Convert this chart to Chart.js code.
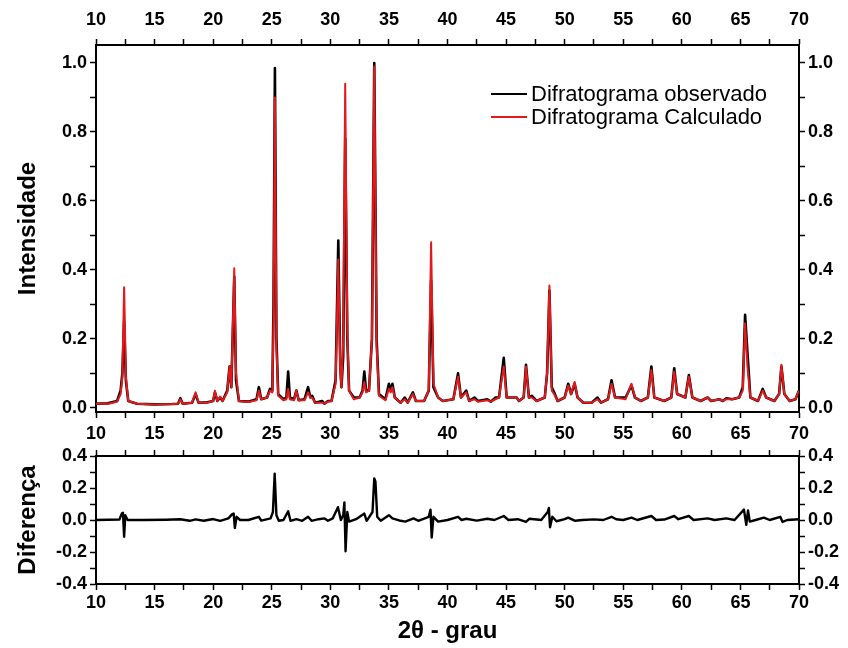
<!DOCTYPE html>
<html>
<head>
<meta charset="utf-8">
<script src="https://cdn.jsdelivr.net/npm/chart.js@4.4.1/dist/chart.umd.min.js"></script>
<style>
  html, body { margin: 0; padding: 0; background: #fff; }
  #wrap { position: relative; width: 848px; height: 648px; }
  #wrap canvas { position: absolute; left: 0; top: 0; }
  #legend { position: absolute; left: 491px; top: 83px; font: 22px "Liberation Sans", Arial, sans-serif; color: #000; }
  #legend .item { display: flex; align-items: center; height: 22.5px; }
  #legend .swatch { width: 36px; height: 2px; margin-right: 4px; }
</style>
</head>
<body>
<div id="wrap">
  <canvas id="topChart" width="848" height="648"></canvas>
  <canvas id="diffChart" width="848" height="648"></canvas>
  <div id="legend"></div>
</div>
<script>
// 2theta positions shared by the observed and calculated patterns
const twoTheta = [
  10.0, 11.0, 11.8, 12.1, 12.25, 12.4, 12.55, 12.75, 13.5, 15.0,
  16.5, 17.0, 17.2, 17.4, 18.2, 18.5, 18.75, 19.5, 20.0, 20.15,
  20.35, 20.6, 20.8, 21.2, 21.4, 21.55, 21.8, 21.95, 22.2, 23.0,
  23.7, 23.9, 24.1, 24.6, 24.85, 25.05, 25.15, 25.27, 25.4, 25.55,
  26.0, 26.25, 26.4, 26.55, 26.9, 27.1, 27.3, 27.8, 28.1, 28.3,
  28.45, 28.7, 29.3, 29.5, 29.8, 30.1, 30.45, 30.68, 30.85, 30.95,
  31.1, 31.27, 31.45, 31.6, 32.0, 32.5, 32.75, 32.9, 33.05, 33.3,
  33.55, 33.75, 33.95, 34.15, 34.7, 35.0, 35.15, 35.3, 35.5, 36.0,
  36.35, 36.6, 37.05, 37.3, 38.0, 38.4, 38.6, 38.8, 39.2, 39.6,
  40.5, 40.9, 41.15, 41.6, 41.85, 42.3, 42.6, 43.4, 43.7, 44.1,
  44.4, 44.8, 45.05, 45.9, 46.1, 46.5, 46.7, 46.95, 47.2, 47.6,
  48.3, 48.5, 48.7, 48.9, 49.1, 49.4, 50.0, 50.3, 50.55, 50.85,
  51.1, 51.6, 52.3, 52.8, 53.1, 53.7, 54.0, 54.3, 55.2, 55.7,
  56.0, 56.5, 57.1, 57.4, 57.65, 58.5, 59.1, 59.35, 59.6, 60.3,
  60.6, 60.9, 61.6, 62.2, 62.5, 63.2, 63.5, 63.8, 64.3, 64.9,
  65.2, 65.4, 65.6, 65.85, 66.5, 66.9, 67.2, 67.9, 68.3, 68.5,
  68.75, 69.2, 69.7, 70.0
];
const observed = [
  0.012, 0.013, 0.020, 0.050, 0.100, 0.250, 0.080, 0.020, 0.012, 0.010,
  0.011, 0.012, 0.028, 0.012, 0.015, 0.040, 0.015, 0.016, 0.020, 0.045,
  0.020, 0.030, 0.020, 0.050, 0.120, 0.060, 0.380, 0.080, 0.020, 0.018,
  0.025, 0.060, 0.025, 0.030, 0.055, 0.050, 0.300, 0.985, 0.200, 0.040,
  0.025, 0.030, 0.105, 0.030, 0.025, 0.050, 0.022, 0.025, 0.060, 0.030,
  0.035, 0.015, 0.020, 0.012, 0.020, 0.020, 0.080, 0.485, 0.120, 0.060,
  0.150, 0.780, 0.200, 0.050, 0.030, 0.030, 0.050, 0.105, 0.050, 0.050,
  0.200, 1.000, 0.200, 0.040, 0.025, 0.070, 0.050, 0.070, 0.030, 0.015,
  0.030, 0.015, 0.045, 0.020, 0.020, 0.050, 0.370, 0.060, 0.030, 0.020,
  0.025, 0.100, 0.030, 0.050, 0.020, 0.030, 0.020, 0.025, 0.018, 0.030,
  0.030, 0.145, 0.030, 0.030, 0.020, 0.030, 0.125, 0.030, 0.035, 0.020,
  0.030, 0.100, 0.340, 0.060, 0.045, 0.020, 0.030, 0.070, 0.040, 0.070,
  0.030, 0.015, 0.015, 0.030, 0.015, 0.025, 0.080, 0.030, 0.030, 0.065,
  0.030, 0.020, 0.030, 0.120, 0.030, 0.020, 0.030, 0.115, 0.040, 0.030,
  0.095, 0.030, 0.020, 0.030, 0.020, 0.025, 0.020, 0.028, 0.025, 0.030,
  0.060, 0.270, 0.160, 0.030, 0.020, 0.055, 0.030, 0.020, 0.040, 0.120,
  0.040, 0.020, 0.025, 0.050
];
const calculated = [
  0.012, 0.012, 0.018, 0.040, 0.090, 0.350, 0.090, 0.020, 0.012, 0.010,
  0.011, 0.012, 0.025, 0.012, 0.015, 0.045, 0.015, 0.015, 0.020, 0.050,
  0.020, 0.033, 0.020, 0.045, 0.120, 0.060, 0.405, 0.100, 0.020, 0.017,
  0.022, 0.050, 0.025, 0.030, 0.050, 0.045, 0.250, 0.900, 0.180, 0.035,
  0.022, 0.025, 0.055, 0.025, 0.022, 0.050, 0.022, 0.022, 0.045, 0.030,
  0.030, 0.015, 0.015, 0.012, 0.018, 0.020, 0.070, 0.430, 0.100, 0.060,
  0.200, 0.940, 0.220, 0.050, 0.025, 0.030, 0.045, 0.075, 0.045, 0.050,
  0.200, 0.990, 0.180, 0.035, 0.022, 0.055, 0.045, 0.060, 0.030, 0.015,
  0.025, 0.015, 0.040, 0.020, 0.020, 0.050, 0.480, 0.070, 0.030, 0.020,
  0.025, 0.090, 0.030, 0.045, 0.020, 0.025, 0.018, 0.022, 0.018, 0.025,
  0.030, 0.120, 0.030, 0.030, 0.020, 0.030, 0.120, 0.030, 0.030, 0.020,
  0.030, 0.100, 0.355, 0.050, 0.040, 0.020, 0.030, 0.065, 0.040, 0.075,
  0.030, 0.015, 0.015, 0.025, 0.015, 0.025, 0.070, 0.030, 0.025, 0.070,
  0.030, 0.020, 0.030, 0.110, 0.030, 0.020, 0.030, 0.105, 0.040, 0.030,
  0.090, 0.030, 0.020, 0.030, 0.020, 0.025, 0.020, 0.025, 0.025, 0.030,
  0.050, 0.245, 0.120, 0.030, 0.020, 0.050, 0.030, 0.020, 0.040, 0.125,
  0.040, 0.020, 0.025, 0.050
];

// difference curve (observado - calculado)
const diffTheta = [
  10.0, 11.0, 12.0, 12.2, 12.3, 12.4, 12.5, 12.7, 14.0, 16.0,
  17.2, 18.0, 18.5, 19.2, 20.0, 20.6, 21.3, 21.6, 21.75, 21.85,
  22.0, 22.3, 23.0, 23.9, 24.1, 24.9, 25.1, 25.25, 25.4, 25.6,
  26.0, 26.4, 26.6, 27.1, 27.6, 28.1, 28.4, 29.0, 29.5, 29.8,
  30.2, 30.65, 30.9, 31.1, 31.2, 31.3, 31.45, 31.6, 32.2, 32.9,
  33.1, 33.6, 33.75, 33.85, 34.0, 34.3, 35.0, 35.3, 36.0, 36.4,
  37.1, 37.5, 38.4, 38.55, 38.65, 38.8, 39.2, 40.0, 40.9, 41.2,
  41.6, 42.5, 43.4, 44.0, 44.8, 45.2, 46.0, 46.7, 47.0, 48.0,
  48.55, 48.65, 48.75, 48.95, 49.3, 50.0, 50.3, 50.9, 51.5, 52.5,
  53.3, 54.0, 54.4, 55.0, 55.7, 56.2, 57.4, 57.8, 58.5, 59.35,
  59.7, 60.6, 61.0, 62.2, 62.8, 63.8, 64.5, 65.3, 65.5, 65.65,
  65.8, 66.3, 67.0, 67.5, 68.4, 68.6, 69.0, 70.0
];
const diffValues = [
  0.000, 0.002, 0.003, 0.040, 0.045, -0.105, 0.030, 0.000, 0.000, 0.002,
  0.005, -0.005, 0.004, -0.005, 0.006, -0.005, 0.010, 0.035, 0.040, -0.050,
  0.020, 0.000, 0.000, 0.020, -0.004, 0.010, 0.050, 0.290, 0.030, -0.005,
  0.000, 0.055, -0.005, 0.005, -0.005, 0.020, -0.005, 0.005, 0.010, -0.005,
  0.010, 0.080, 0.000, 0.030, 0.110, -0.195, 0.050, -0.010, 0.005, 0.040,
  -0.005, 0.050, 0.260, 0.240, 0.020, -0.005, 0.030, 0.010, -0.005, -0.010,
  0.010, -0.005, 0.020, 0.065, -0.110, 0.020, -0.010, 0.000, 0.020, 0.000,
  0.008, -0.004, 0.008, 0.000, 0.025, 0.000, 0.005, -0.012, 0.008, 0.000,
  0.050, 0.075, -0.045, 0.020, -0.008, 0.005, 0.015, -0.005, 0.000, 0.004,
  0.000, 0.020, 0.005, 0.000, 0.015, 0.000, 0.025, 0.000, 0.003, 0.025,
  0.005, 0.025, 0.000, 0.010, 0.000, 0.010, 0.000, 0.065, -0.030, 0.060,
  -0.010, 0.000, 0.015, 0.000, 0.020, -0.012, 0.000, 0.005
];

const seriesNames = ['Difratograma observado', 'Difratograma Calculado'];
const seriesColors = ['#000000', '#e3191b'];
const xTitle = '2θ - grau';
const yTitleTop = 'Intensidade';
const yTitleDiff = 'Diferença';

const fam = '"Liberation Sans", Arial, sans-serif';
const tickFont = { family: fam, size: 18, weight: 'bold' };
const titleFont = { family: fam, size: 24, weight: 'bold' };

const gridOpts = { display: true, drawOnChartArea: false, drawTicks: true, tickLength: 6, tickColor: '#000', tickWidth: 1.5 };
const borderOpts = { display: true, color: '#000', width: 2 };

function xAxis(position, showLabels, size, pad) {
  return {
    type: 'linear', position: position, min: 10, max: 70,
    afterFit: s => { s.height = size; },
    border: borderOpts, grid: gridOpts,
    ticks: {
      display: showLabels, stepSize: 2.5, autoSkip: false, maxRotation: 0, includeBounds: false,
      color: '#000', font: tickFont, padding: pad,
      callback: v => (v % 5 === 0 ? String(v) : '')
    }
  };
}

function yAxis(position, min, max, size, pad) {
  return {
    type: 'linear', position: position, min: min, max: max,
    afterFit: s => { s.width = size; },
    border: borderOpts, grid: gridOpts,
    ticks: {
      stepSize: 0.1, autoSkip: false, includeBounds: false,
      color: '#000', font: tickFont, padding: pad,
      callback: v => (Math.round(v * 10) % 2 === 0 ? v.toFixed(1) : '')
    }
  };
}

const commonOpts = {
  responsive: false,
  animation: false,
  layout: { padding: 0 },
  plugins: { legend: { display: false }, tooltip: { enabled: false } },
  elements: { point: { radius: 0 }, line: { tension: 0, borderJoinStyle: 'round' } }
};

// painel superior
const topScales = {
  x: xAxis('bottom', true, 648 - 412, 5),
  xTop: xAxis('top', true, 45, 8),
  y: yAxis('left', -0.012, 1.052, 96, 3),
  yRight: yAxis('right', -0.012, 1.052, 49, 3)
};
topScales.y.title = { display: true, text: yTitleTop, color: '#000', font: titleFont, padding: { top: 14, bottom: 0 } };

const topChart = new Chart(document.getElementById('topChart'), {
  type: 'line',
  data: {
    datasets: [
      {
        label: seriesNames[0],
        data: twoTheta.map((t, i) => ({ x: t, y: observed[i] })),
        borderColor: seriesColors[0], borderWidth: 2.6, order: 1
      },
      {
        label: seriesNames[1],
        data: twoTheta.map((t, i) => ({ x: t, y: calculated[i] })),
        borderColor: seriesColors[1], borderWidth: 2, order: 0
      }
    ]
  },
  options: Object.assign({}, commonOpts, { scales: topScales })
});

// painel da diferença
const diffScales = {
  x: xAxis('bottom', true, 648 - 584, 2),
  xTop: xAxis('top', false, 456, 2),
  y: yAxis('left', -0.4, 0.4, 96, 3),
  yRight: yAxis('right', -0.4, 0.4, 49, 3)
};
diffScales.x.title = { display: true, text: xTitle, color: '#000', font: titleFont, padding: { top: 0, bottom: 2 } };
diffScales.y.title = { display: true, text: yTitleDiff, color: '#000', font: titleFont, padding: { top: 14, bottom: 0 } };

const diffChart = new Chart(document.getElementById('diffChart'), {
  type: 'line',
  data: {
    datasets: [{
      label: 'Diferença',
      data: diffTheta.map((t, i) => ({ x: t, y: diffValues[i] })),
      borderColor: '#000', borderWidth: 2.4
    }]
  },
  options: Object.assign({}, commonOpts, { scales: diffScales })
});

// legenda em html, montada a partir dos datasets
const legendEl = document.getElementById('legend');
topChart.data.datasets.forEach(ds => {
  const row = document.createElement('div');
  row.className = 'item';
  const sw = document.createElement('span');
  sw.className = 'swatch';
  sw.style.background = ds.borderColor;
  const txt = document.createElement('span');
  txt.textContent = ds.label;
  row.appendChild(sw);
  row.appendChild(txt);
  legendEl.appendChild(row);
});
</script>
</body>
</html>
